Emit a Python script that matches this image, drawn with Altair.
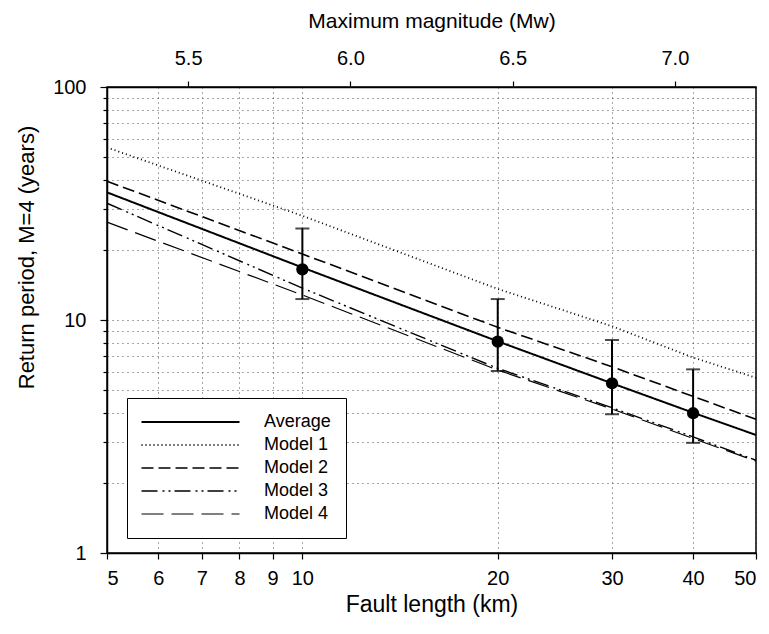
import altair as alt
import pandas as pd

# ---- data ----
lengths = [5, 10, 20, 30, 40, 50]
series_names = ["Average", "Model 1", "Model 2", "Model 3", "Model 4"]
average = [35.3, 16.8, 8.1, 5.35, 4.0, 3.21]
model1 = [55.0, 28.0, 13.6, 9.4, 6.9, 5.65]
model2 = [39.4, 19.2, 9.3, 6.3, 4.7, 3.75]
model3 = [31.7, 13.7, 6.2, 4.2, 3.15, 2.5]
model4 = [26.3, 12.8, 6.1, 4.15, 3.1, 2.48]

obs_length = [10, 20, 30, 40]
obs_value = [16.5, 8.07, 5.35, 3.98]
obs_low = [12.3, 6.04, 3.94, 2.97]
obs_high = [24.7, 12.3, 8.2, 6.14]

x_ticks = [5, 6, 7, 8, 9, 10, 20, 30, 40, 50]
y_ticks = [1, 2, 3, 4, 5, 6, 7, 8, 9, 10, 20, 30, 40, 50, 60, 70, 80, 90, 100]
mag_ticks = [5.5, 6.0, 6.5, 7.0]
mag_domain = [5.25, 7.25]

dash_styles = [[1, 0], [1, 3], [12, 5], [16, 5, 2, 4, 2, 4], [22, 8]]
line_widths = [2.0, 1.2, 2.0, 1.8, 2.0]

FONT = "Liberation Sans"

rows = []
for name, vals in zip(series_names, [average, model1, model2, model3, model4]):
    for L, v in zip(lengths, vals):
        rows.append({"length": L, "value": v, "series": name})
lines_df = pd.DataFrame(rows)
obs_df = pd.DataFrame({"length": obs_length, "value": obs_value,
                       "low": obs_low, "high": obs_high})
mag_df = pd.DataFrame({"mag": mag_ticks})

xscale = alt.Scale(type="log", domain=[5, 50], nice=False)
yscale = alt.Scale(type="log", domain=[1, 100], nice=False)

x_axis = alt.Axis(values=x_ticks, format="d", title="Fault length (km)",
                  labelFontSize=20, titleFontSize=23, labelPadding=9,
                  titlePadding=5, tickSize=6, grid=True)
y_axis = alt.Axis(values=y_ticks,
                  labelExpr="(datum.value == 1 || datum.value == 10 || datum.value == 100) ? datum.value : ''",
                  title="Return period, M=4 (years)",
                  labelFontSize=20, titleFontSize=22, labelPadding=14,
                  titlePadding=14, titleY=170,
                  tickSize={"condition": {"test": "datum.value == 1 || datum.value == 10 || datum.value == 100", "value": 7}, "value": 4},
                  grid=True)

lines = alt.Chart(lines_df).mark_line(color="black").encode(
    x=alt.X("length:Q", scale=xscale, axis=x_axis),
    y=alt.Y("value:Q", scale=yscale, axis=y_axis),
    strokeDash=alt.StrokeDash(
        "series:N",
        scale=alt.Scale(domain=series_names, range=dash_styles),
        legend=alt.Legend(
            title=None, orient="none", legendX=20, legendY=311,
            symbolType="M-9.5,0H88.5", symbolSize=4, symbolStrokeWidth=1.8,
            symbolStrokeColor="black", symbolFillColor="transparent",
            labelOffset=104, labelFontSize=18, labelFont=FONT,
            labelColor="black", strokeColor="black", fillColor="white",
            padding=15, rowPadding=5, symbolOffset=0, labelLimit=0,
        ),
    ),
    strokeWidth=alt.StrokeWidth(
        "series:N",
        scale=alt.Scale(domain=series_names, range=line_widths),
        legend=None,
    ),
)

bars = alt.Chart(obs_df).mark_rule(color="black", strokeWidth=2).encode(
    x=alt.X("length:Q", scale=xscale),
    y=alt.Y("low:Q", scale=yscale),
    y2="high:Q",
)
cap_low = alt.Chart(obs_df).mark_tick(color="black", orient="horizontal",
                                      size=14, thickness=2).encode(
    x=alt.X("length:Q", scale=xscale),
    y=alt.Y("low:Q", scale=yscale),
)
cap_high = alt.Chart(obs_df).mark_tick(color="black", orient="horizontal",
                                       size=14, thickness=2).encode(
    x=alt.X("length:Q", scale=xscale),
    y=alt.Y("high:Q", scale=yscale),
)
points = alt.Chart(obs_df).mark_circle(color="black", size=150, opacity=1).encode(
    x=alt.X("length:Q", scale=xscale),
    y=alt.Y("value:Q", scale=yscale),
)

main = alt.layer(lines, bars, cap_low, cap_high, points)

top = alt.Chart(mag_df).mark_point(opacity=0).encode(
    x=alt.X("mag:Q", scale=alt.Scale(domain=mag_domain, nice=False, zero=False),
            axis=alt.Axis(orient="top", values=mag_ticks, format=".1f",
                          title="Maximum magnitude (Mᴡ)", grid=False,
                          labelFontSize=20, titleFontSize=21,
                          labelPadding=13, titlePadding=17, tickSize=6)),
)

chart = alt.layer(main, top).resolve_scale(x="independent").properties(
    width=649, height=466,
    padding={"left": 99, "top": 79, "right": 5, "bottom": 72},
    autosize=alt.AutoSizeParams(type="none"),
).configure_view(
    stroke="black", strokeWidth=1.5
).configure_axis(
    domainColor="black", domainWidth=1.5, tickColor="black", tickWidth=1.2,
    labelColor="black", titleColor="black", labelFont=FONT, titleFont=FONT,
    titleFontWeight="normal", gridColor="#222222", gridDash=[1, 4],
    gridWidth=1, gridOpacity=0.8,
)

chart.save("out.html", embed_options={"renderer": "svg", "actions": False})
